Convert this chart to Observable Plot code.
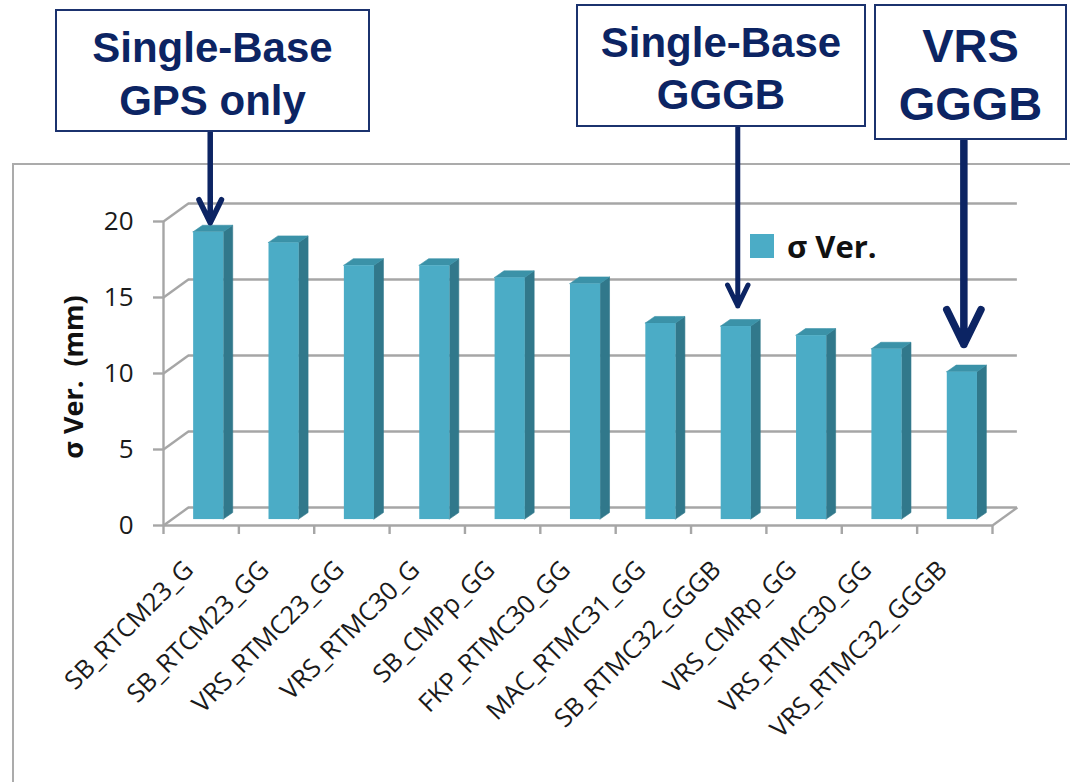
<!DOCTYPE html>
<html>
<head>
<meta charset="utf-8">
<script src="https://cdn.jsdelivr.net/npm/d3@7"></script>
<script src="https://cdn.jsdelivr.net/npm/@observablehq/plot@0.6"></script>
<style>
  html, body { margin: 0; padding: 0; background: #fff; overflow: hidden; }
  #page { position: relative; width: 1070px; height: 782px; overflow: hidden; font-family: "Open Sans", sans-serif; }
  #frame { position: absolute; left: 12px; top: 163px; width: 1200px; height: 800px; border: 2px solid #ababab; box-sizing: border-box; }
  #chart { position: absolute; left: 0; top: 0; }
  .note { position: absolute; box-sizing: border-box; border: 2px solid #1b326e; background: #fff; color: #0c2463;
          font-family: "Liberation Sans", Arial, sans-serif; font-weight: bold; text-align: center;
          display: flex; flex-direction: column; justify-content: center; }
  .legend { position: absolute; left: 750px; top: 225px; display: flex; align-items: center; gap: 13px;
            font-weight: bold; font-size: 31px; color: #111; }
  .legend .sw { width: 24px; height: 24px; background: #4bacc6; }
  .ytitle { position: absolute; left: 72px; top: 377px; transform: translate(-50%, -50%) rotate(-90deg);
            font-weight: bold; font-size: 27px; color: #111; white-space: pre; }
</style>
</head>
<body>
<div id="page">
  <div id="frame"></div>
  <div id="chart"></div>
</div>
<script>
// Vertical precision per correction service
const categories = [
  "SB_RTCM23_G", "SB_RTCM23_GG", "VRS_RTMC23_GG", "VRS_RTMC30_G", "SB_CMPp_GG", "FKP_RTMC30_GG",
  "MAC_RTMC31_GG", "SB_RTMC32_GGGB", "VRS_CMRp_GG", "VRS_RTMC30_GG", "VRS_RTMC32_GGGB"
];
const sigmaVer = [18.9, 18.2, 16.7, 16.7, 15.9, 15.5, 12.9, 12.7, 12.1, 11.2, 9.7];
const yTicks = [0, 5, 10, 15, 20];
const seriesName = "σ Ver.";
const yLabel = "σ Ver.  (mm)";
const calloutCategories = ["SB_RTCM23_G", "SB_RTMC32_GGGB", "VRS_RTMC32_GGGB"];
const calloutLines = [["Single-Base", "GPS only"], ["Single-Base", "GGGB"], ["VRS", "GGGB"]];

// Layout
const W = 1070, H = 782;
const M = {top: 221, right: 78, bottom: 257, left: 163};
const yMax = 20;
const n = categories.length;
const yPx = (H - M.top - M.bottom) / yMax;              // pixels per mm
const yOf = (px) => (H - M.bottom - px) / yPx;           // page pixel row -> y value

// pseudo-3D geometry (x in category units, y in mm)
const wallDx = 0.33, wallDy = 1.18;   // depth of floor / back wall
const base = 0.39;                    // bars sit mid-depth on the floor
const bx0 = 0.40, bw = 0.40;          // bar front face within its band
const bdx = 0.125, bdy = 0.43;        // bar depth

const grid = "#a6a6a6", gridW = 2.4;
const cFront = "#4bacc6", cSide = "#31788b", cTop = "#3b92a8";

const bars = categories.map((c, i) => ({c, i, v: sigmaVer[i]}));
const sides = bars.flatMap((d) => {
  const x = d.i + bx0 + bw;
  return [
    {i: d.i, x, lo: base, hi: d.v + base},
    {i: d.i, x: x + bdx, lo: base + bdy, hi: d.v + base + bdy}
  ];
});
const tops = bars.flatMap((d) => {
  const xl = d.i + bx0, xr = xl + bw, t = d.v + base;
  return [
    {i: d.i, x: xl, lo: t, hi: t},
    {i: d.i, x: xl + bdx, lo: t, hi: t + bdy},
    {i: d.i, x: xr, lo: t, hi: t + bdy},
    {i: d.i, x: xr + bdx, lo: t + bdy, hi: t + bdy}
  ];
});

// callout boxes and their arrows
const noteStyle = [
  {left: 55, top: 9, width: 315, height: 123, font: 42, lh: 53, pad: 6, sw: 5.5, head: 7, gap: 3},
  {left: 576, top: 4, width: 290, height: 123, font: 42, lh: 52, pad: 6, sw: 5, head: 7, gap: 14},
  {left: 874, top: 4, width: 193, height: 136, font: 47, lh: 58, pad: 6, sw: 7.5, head: 7.8, gap: 21}
];
const arrowX = 0.62;

const arrows = calloutCategories.map((c, k) => {
  const i = categories.indexOf(c);
  const s = noteStyle[k];
  return Plot.arrow([{i, v: sigmaVer[i]}], {
    x1: (d) => d.i + arrowX, x2: (d) => d.i + arrowX,
    y1: yOf(s.top + s.height), y2: (d) => d.v + base + bdy,
    insetEnd: s.gap, stroke: "#0c2463", strokeWidth: s.sw, headLength: s.head, headAngle: 52
  });
});

const boundaries = d3.range(n + 1);

const chart = Plot.plot({
  width: W, height: H,
  marginTop: M.top, marginRight: M.right, marginBottom: M.bottom, marginLeft: M.left,
  x: {domain: [0, n], axis: null},
  y: {domain: [0, yMax], axis: null},
  style: {fontFamily: "'Open Sans', sans-serif", background: "transparent", overflow: "visible"},
  marks: [
    // back wall gridlines
    Plot.ruleY(yTicks, {y: (t) => t + wallDy, x1: wallDx, x2: n + wallDx, stroke: grid, strokeWidth: gridW}),
    // side wall receding lines
    Plot.link(yTicks, {x1: 0, y1: (t) => t, x2: wallDx, y2: (t) => t + wallDy, stroke: grid, strokeWidth: gridW}),
    // floor right edge
    Plot.link([0], {x1: n, y1: 0, x2: n + wallDx, y2: wallDy, stroke: grid, strokeWidth: gridW}),
    // floor front edge and value axis line
    Plot.ruleY([0], {x1: 0, x2: n, stroke: grid, strokeWidth: gridW}),
    Plot.ruleX([0], {y1: 0, y2: yMax, stroke: grid, strokeWidth: gridW}),
    // axis ticks
    Plot.axisY({ticks: yTicks, tickSize: 10, tickFormat: () => "", label: null, stroke: grid, strokeWidth: gridW}),
    Plot.axisX({ticks: boundaries, tickSize: 9, tickFormat: () => "", label: null, stroke: grid, strokeWidth: gridW}),
    // value labels
    Plot.text(yTicks, {y: (t) => t, text: (t) => String(t), frameAnchor: "left", dx: -30, textAnchor: "end",
                       fontSize: 26, fill: "#1a1a1a"}),
    // category labels
    Plot.text(categories, {x: (d, i) => i + 0.5, text: (d) => d, frameAnchor: "bottom",
                           dx: -12, dy: 40, rotate: -45, textAnchor: "end", lineAnchor: "middle",
                           fontSize: 25.5, fill: "#1a1a1a"}),
    // bars: side, top, front
    Plot.areaY(sides, {x: "x", y1: "lo", y2: "hi", z: "i", fill: cSide, stroke: cSide, strokeWidth: 0.6}),
    Plot.areaY(tops, {x: "x", y1: "lo", y2: "hi", z: "i", fill: cTop, stroke: cTop, strokeWidth: 0.6}),
    Plot.rect(bars, {x1: (d) => d.i + bx0, x2: (d) => d.i + bx0 + bw, y1: base, y2: (d) => d.v + base, fill: cFront}),
    ...arrows
  ]
});
document.getElementById("chart").appendChild(chart);

const page = document.getElementById("page");

const title = document.createElement("div");
title.className = "ytitle";
title.textContent = yLabel;
page.appendChild(title);

calloutLines.forEach((lines, k) => {
  const s = noteStyle[k];
  const box = document.createElement("div");
  box.className = "note";
  Object.assign(box.style, {left: s.left + "px", top: s.top + "px", width: s.width + "px", height: s.height + "px",
                            fontSize: s.font + "px", lineHeight: s.lh + "px", paddingTop: s.pad + "px"});
  lines.forEach((t) => { const l = document.createElement("div"); l.textContent = t; box.appendChild(l); });
  page.appendChild(box);
});

const legend = document.createElement("div");
legend.className = "legend";
legend.innerHTML = `<div class="sw"></div><div>${seriesName}</div>`;
page.appendChild(legend);
</script>
</body>
</html>
